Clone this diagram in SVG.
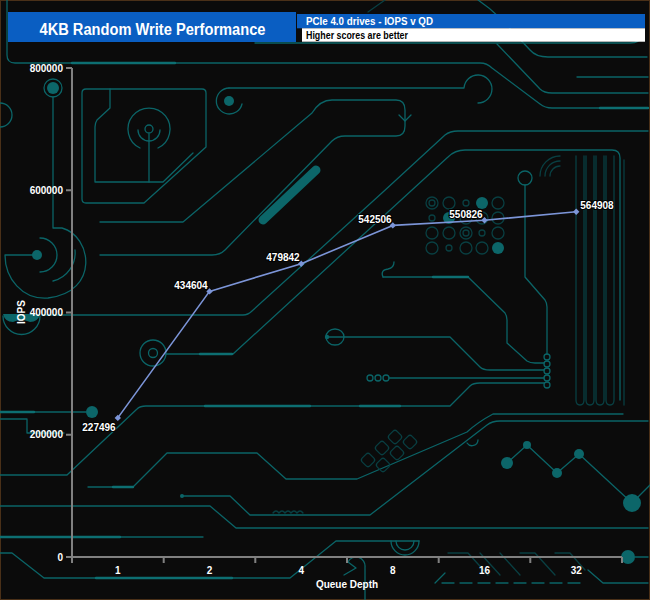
<svg xmlns="http://www.w3.org/2000/svg" width="650" height="600" viewBox="0 0 650 600">
<style>
.t{fill:none;stroke:#0b6467;stroke-width:1.3;stroke-linecap:round;stroke-linejoin:round}
.d{fill:none;stroke:#093f42;stroke-width:1.3;stroke-linecap:round;stroke-linejoin:round}
.b{fill:none;stroke:#0d6f72;stroke-width:2.4;stroke-linecap:round}
.f{fill:#0c6669}
.txt{font-family:"Liberation Sans",Arial,sans-serif}
.tick{font-family:"Liberation Sans",Arial,sans-serif;font-size:10px;font-weight:bold;fill:#fff}
.lab{font-family:"Liberation Sans",Arial,sans-serif;font-size:10px;font-weight:bold;fill:#fff;stroke:#000;stroke-width:2;paint-order:stroke;text-anchor:middle}
.ax{stroke:#808080;stroke-width:2;fill:none}
.pt{fill:#7c95d8}
</style>
<defs>
<path id="dia" d="M0,-3.2 L3.2,0 L0,3.2 L-3.2,0 Z"/>
</defs>
<rect x="0" y="0" width="650" height="600" fill="#0b0b0b"/>
<rect x="0.5" y="0.5" width="649" height="599" fill="none" stroke="#4a3018" stroke-width="1"/>

<g id="circuit">
<path class="t" d="M7,0 V55 Q7,63 15,63 H480 Q487,63 492,68 L540,104 Q545,108 552,108 H648"/>
<path class="b" d="M72,63 H175"/>
<path class="b" d="M600,108 H648"/>
<path class="t" d="M255,43 H630 Q640,43 642,35"/>
<path class="t" d="M478,0 Q490,8 500,18 L530,50 Q536,57 548,57 H647"/>
<path class="t" d="M497,44 L540,89 Q544,93 552,93 H648"/>
<path class="t" d="M577,77 H648"/>
<path class="d" d="M385,0 L368,12"/>
<path class="t" d="M0,103 A12,12 0 0 1 0,127"/>
<!-- top-left box -->
<path class="t" d="M86,89 H202 Q206,89 206,93 V147 L144,203 H86 Q82,203 82,199 V93 Q82,89 86,89 Z"/>
<path class="t" d="M110,89 V108 L97,120 Q95,123 95,127 V182 H163 L193,153"/>
<path class="t" d="M140,148 A21,21 0 1 1 158,148"/>
<circle class="t" cx="149" cy="129" r="4"/>
<path class="t" d="M138,130 A11,11 0 0 0 160,130"/>
<path class="t" d="M149,134 V182"/>
<!-- ring with line -->
<circle class="f" cx="229" cy="101" r="5"/>
<path class="t" d="M229,88 A13,13 0 1 0 242,104"/>
<path class="t" d="M229,88 H464 A14,14 0 1 1 478,103"/>
<!-- thick bar -->
<path d="M263,220 L316,170" stroke="#0c6669" stroke-width="9" stroke-linecap="round" fill="none"/>
<!-- U loop -->
<path class="t" d="M100,222 H183 L312,113 Q320,100 332,100 H396 Q405,100 405,110 V126 Q405,136 396,136 H345 Q337,136 332,141 L225,250 Q220,255 212,255 H100"/>
<path class="t" d="M399,115 L405,121 L411,115"/>
<!-- left big arc -->
<circle class="f" cx="53" cy="88" r="6"/>
<circle class="t" cx="53" cy="88" r="9"/>
<path class="t" d="M53,97 V228 H62 C92,236 100,292 48,298 C22,300 5,278 5,255 H37"/>
<circle class="f" cx="37" cy="255" r="5"/>
<path class="t" d="M40,238 A17,17 0 0 1 40,272"/>
<path class="t" d="M53,281 A29,29 0 0 0 75,250"/>
<!-- y=315 trace -->
<path class="t" d="M42,315 H243 Q248,315 252,311 L383,192 L445,135 Q450,131 458,131 H648"/>
<path class="t" d="M3,316 A18,18 0 0 0 40,316"/>
<path class="f" d="M3,314 H40 Q38,322 30,322 Q21,318 13,322 Q5,322 3,314 Z"/>
<!-- trace to rounded rect -->
<circle class="t" cx="153" cy="353" r="13"/>
<circle class="t" cx="153" cy="353" r="4.5" stroke-width="3"/>
<path class="t" d="M166,354 H233 L448,157 Q455,150 465,150 H612 Q620,150 620,158 V400"/>
<path class="b" d="M200,354 H232"/>
<!-- right verticals -->
<path class="d" d="M576,156 V400 Q576,405 580,405 Q584,405 584,400 V156"/>
<path class="d" d="M586,156 V400 Q586,405 590,405 Q594,405 594,400 V156"/>
<path class="d" d="M596,156 V400 Q596,405 600,405 Q604,405 604,400 V156"/>
<path class="d" d="M606,156 V400 Q606,405 610,405 Q614,405 614,400 V156"/>
<path class="d" d="M624,160 V405"/>
<path class="d" d="M540,176 A20,20 0 0 1 560,156"/>
<path class="d" d="M545,176 A15,15 0 0 1 560,161"/>
<path class="d" d="M550,176 A10,10 0 0 1 560,166"/>
<!-- vertical with ring -->
<circle class="t" cx="525" cy="178" r="7"/>
<path class="t" d="M525,185 V277 L545,300 Q547,303 547,307 V354"/>
<circle class="t" cx="547" cy="357" r="3"/>
<circle class="t" cx="547" cy="364" r="3"/>
<circle class="t" cx="547" cy="371" r="3"/>
<circle class="t" cx="547" cy="378" r="3"/>
<circle class="t" cx="547" cy="385" r="3"/>
<!-- dot grid -->
<g class="d">
<circle cx="432" cy="203" r="6"/><circle cx="432" cy="203" r="3"/><circle cx="449" cy="203" r="6"/><circle cx="466" cy="203" r="3"/><circle cx="498" cy="203" r="6"/>
<circle cx="432" cy="218" r="3"/><circle cx="466" cy="218" r="6"/><circle cx="482" cy="218" r="6"/><circle cx="498" cy="218" r="6"/>
<circle cx="432" cy="233" r="6"/><circle cx="449" cy="233" r="6"/><circle cx="466" cy="233" r="6"/><circle cx="466" cy="233" r="3"/><circle cx="482" cy="233" r="3"/><circle cx="498" cy="233" r="6"/>
<circle cx="432" cy="248" r="6"/><circle cx="449" cy="248" r="3"/><circle cx="466" cy="248" r="6"/><circle cx="482" cy="248" r="6"/>
</g>
<circle class="f" cx="482" cy="203" r="6"/>
<circle class="f" cx="449" cy="218" r="6"/>
<circle class="f" cx="498" cy="248" r="6"/>
<!-- middle right traces -->
<path class="t" d="M383,277 H468 L505,313 Q507,316 507,320 V343 L527,361 Q530,363 535,363 H544"/>
<path class="b" d="M433,277 H468"/>
<path class="t" d="M383,277 Q380,270 388,269 Q394,268 394,262"/>
<circle class="f" cx="327" cy="337" r="2.2"/>
<ellipse class="t" cx="335" cy="337" rx="9" ry="8"/>
<path class="t" d="M327,337 H450 L480,367 Q483,370 490,370 H544"/>
<circle class="t" cx="370" cy="378" r="3"/><circle class="t" cx="378" cy="378" r="3"/><circle class="t" cx="386" cy="378" r="3"/>
<path class="t" d="M389,378 H544"/>
<path class="t" d="M0,475 H67 L137,409 Q140,406 146,406 H450 L470,386 Q473,383 480,383 H544"/>
<path class="b" d="M205,406 H310"/>
<path class="b" d="M360,406 H400"/>
<!-- left lower -->
<path class="t" d="M0,412 H86"/>
<path class="b" d="M0,412 H34"/>
<circle class="f" cx="92" cy="412" r="6"/>
<path class="t" d="M0,419 H27 V433 H64"/>
<path class="t" d="M88,487 H133 L167,453 H257 L286,479 H357 L467,432 Q478,422 493,414 H623"/>
<path class="b" d="M113,487 H133"/>
<circle class="f" cx="182" cy="496" r="2"/>
<path class="t" d="M182,496 H230 L250,515 H370 L487,425 Q492,421 500,421 H648"/>
<path class="t" d="M0,506 H210 L236,528 H648"/>
<path class="t" d="M0,537 H203"/>
<path class="b" d="M0,537 H120"/>
<path class="t" d="M0,553 H12 L44,578 H290 L336,541 H419"/>
<path class="b" d="M96,578 H232"/>
<path class="d" d="M273,513 q3,-4 6,0 q3,-4 6,0 q3,-4 6,0 q3,-4 6,0 q3,-4 6,0"/>
<!-- diamonds -->
<g class="d">
<rect x="-5.5" y="-5.5" width="11" height="11" rx="3" transform="translate(395,437) rotate(45)"/>
<rect x="-5.5" y="-5.5" width="11" height="11" rx="3" transform="translate(410,442) rotate(45)"/>
<rect x="-5.5" y="-5.5" width="11" height="11" rx="3" transform="translate(382,448) rotate(45)"/>
<rect x="-5.5" y="-5.5" width="11" height="11" rx="3" transform="translate(397,453) rotate(45)"/>
<rect x="-5.5" y="-5.5" width="11" height="11" rx="3" transform="translate(368,460) rotate(45)"/>
<rect x="-5.5" y="-5.5" width="11" height="11" rx="3" transform="translate(383,465) rotate(45)"/>
</g>
<path class="t" d="M467,443 A6,6 0 0 0 478,440"/>
<!-- zigzag dots -->
<path class="t" d="M507,463 L527,445 L557,473 L579,454 L632,503 L650,485"/>
<circle class="f" cx="507" cy="463" r="6"/>
<circle class="f" cx="527" cy="445" r="4"/>
<circle class="f" cx="557" cy="473" r="5"/>
<circle class="f" cx="579" cy="454" r="5"/>
<circle class="f" cx="632" cy="503" r="9"/>
<!-- bottom -->
<path class="t" d="M391,541 A14,14 0 0 0 419,541"/>
<path class="t" d="M396,541 A9,9 0 0 0 414,541"/>
<path class="t" d="M365,600 V567 A9,9 0 0 0 348,562 L356,568 L344,575"/>
<path class="d" d="M448,553 H468 L488,575"/>
<path class="d" d="M480,553 L500,575"/>
<path class="d" d="M500,553 L520,575"/>
<path class="d" d="M520,553 H535 L555,575"/>
<path class="d" d="M555,553 H570 L585,570"/>
<path class="t" d="M435,583 L445,573"/>
<path class="t" d="M442,583 H580" stroke-dasharray="12,6"/>
<path class="t" d="M588,570 L603,583 H648"/>
<circle class="f" cx="628" cy="557" r="7"/>
<path class="t" d="M635,557 H648"/>
</g>

<g id="header">
<rect x="8" y="12" width="288" height="30" fill="#0a5ec2"/>
<text class="txt" x="152.5" y="34.5" font-size="16" font-weight="bold" fill="#fff" text-anchor="middle" textLength="226" lengthAdjust="spacingAndGlyphs">4KB Random Write Performance</text>
<rect x="297" y="14" width="348" height="14.3" fill="#0a5ec2"/>
<rect x="302" y="28.3" width="343" height="13.4" fill="#fff"/>
<text class="txt" x="306" y="25" font-size="10.5" font-weight="bold" fill="#fff" textLength="127" lengthAdjust="spacingAndGlyphs">PCIe 4.0 drives - IOPS v QD</text>
<text class="txt" x="306" y="38.5" font-size="10.5" font-weight="bold" fill="#000" textLength="102" lengthAdjust="spacingAndGlyphs">Higher scores are better</text>
</g>

<g id="axes">
<path class="ax" d="M72,68 V563"/>
<path class="ax" d="M72,557 H622"/>
<path class="ax" d="M66,68 H72 M66,190.25 H72 M66,312.5 H72 M66,434.75 H72 M66,557 H72"/>
<path class="ax" d="M163.7,557 V563 M255.3,557 V563 M347,557 V563 M438.7,557 V563 M530.3,557 V563 M622,557 V563"/>
<g class="tick" text-anchor="end">
<text x="63" y="71.5">800000</text>
<text x="63" y="193.7">600000</text>
<text x="63" y="316">400000</text>
<text x="63" y="438.2">200000</text>
<text x="63" y="560.5">0</text>
</g>
<g class="tick" text-anchor="middle">
<text x="117.8" y="574">1</text>
<text x="209.5" y="574">2</text>
<text x="301.2" y="574">4</text>
<text x="392.8" y="574">8</text>
<text x="484.5" y="574">16</text>
<text x="576.2" y="574">32</text>
<text x="347" y="588">Queue Depth</text>
</g>
<text class="tick" text-anchor="middle" transform="translate(24.5,312) rotate(-90)">IOPS</text>
</g>

<g id="connectors">
<path d="M117.8,417.9 L209.5,291.4 L301.2,263.7 L392.8,225.4 L484.5,220.3 L576.2,211.7" fill="none" stroke="#7c95d8" stroke-width="1.6" stroke-linejoin="round"/>
</g>

<g id="qd1"><use href="#dia" class="pt" x="117.8" y="417.9"/><text class="lab" x="99" y="431">227496</text></g>
<g id="qd2"><use href="#dia" class="pt" x="209.5" y="291.4"/><text class="lab" x="191" y="289">434604</text></g>
<g id="qd4"><use href="#dia" class="pt" x="301.2" y="263.7"/><text class="lab" x="283" y="261">479842</text></g>
<g id="qd8"><use href="#dia" class="pt" x="392.8" y="225.4"/><text class="lab" x="375" y="223">542506</text></g>
<g id="qd16"><use href="#dia" class="pt" x="484.5" y="220.3"/><text class="lab" x="466" y="218">550826</text></g>
<g id="qd32"><use href="#dia" class="pt" x="576.2" y="211.7"/><text class="lab" x="597" y="209">564908</text></g>
</svg>
